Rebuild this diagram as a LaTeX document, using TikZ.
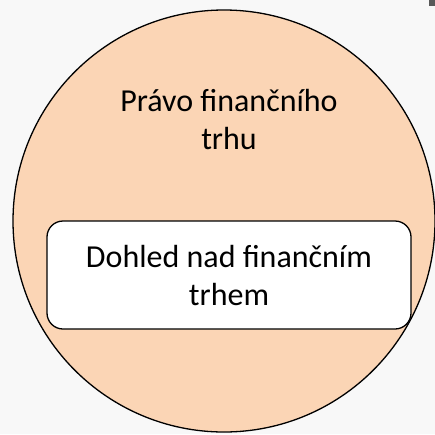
\documentclass[tikz,border=0pt]{standalone}
\usepackage{fontspec}
\setmainfont{Carlito}
\usetikzlibrary {positioning}
\definecolor{peach}{HTML}{FBD5B5}
\definecolor{slidebg}{HTML}{F8F8F8}

\begin{document}
\begin{tikzpicture}[x=1pt, y=-1pt,
	market/.style={circle, draw, line width=1.3pt, fill=peach, minimum size=422pt, inner sep=0pt},
	label text/.style={align=center, font=\fontsize{32}{38}\selectfont},
	inner box/.style={draw, line width=1.3pt, fill=white, rounded corners=16pt, minimum width=364pt, minimum height=108pt, label text}]
	\fill[slidebg] (0,0) rectangle (435,434);
	\useasboundingbox (0,0) rectangle (435,434);
	\fill[black!65] (429,0) rectangle (435,6);
	\node[market] (trh) at (224,221) {};
	\node[label text] (pravo) at (229,120) {Právo finančního\\trhu};
	\node[inner box] (dohled) at (229,275) {Dohled nad finančním\\trhem};
\end{tikzpicture}
\end{document}
